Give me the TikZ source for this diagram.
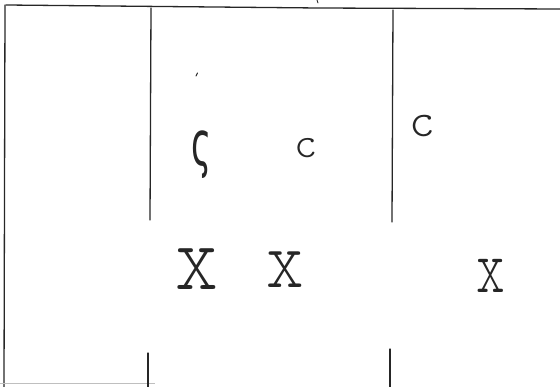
\documentclass[tikz,border=0pt]{standalone}
\usepackage{fontspec}
\usepackage{graphicx}
\newfontfamily\handfont{lmmonolt10-regular.otf}
\newfontfamily\greekfont{DejaVu Sans}
\begin{document}
\begin{tikzpicture}[x=1pt,y=-1pt,
  pen/.style={line width=1.3pt,draw=black!85,line cap=round},
  faint/.style={line width=1pt,draw=black!25},
  glyph/.style={inner sep=0pt,anchor=base,text=black!85}]
\useasboundingbox (0,0) rectangle (560,387);
% frame
\draw[pen] (6,5) -- (318,8) -- (560,9);
\draw[pen] (5,5) -- (4,387);
\draw[faint] (0,384) -- (155,384);
\draw[pen,line width=0.8pt] (317,0) -- (318,3);
% column lines
\draw[pen] (151,8) -- (150,220);
\draw[pen] (148,353) -- (148,387);
\draw[pen] (393,10) -- (392,222);
\draw[pen] (390,349) -- (390,387);
% stray dot
\draw[pen,line width=1pt] (196,76) -- (197.5,73);
% labels
\node[glyph] (s) at (202,166) {\scalebox{0.55}[1]{\greekfont\fontsize{62}{62}\selectfont ς}};
\node[glyph] (c1) at (306,158) {\handfont\fontsize{44}{44}\selectfont c};
\node[glyph] (c2) at (422,137) {\handfont\fontsize{49}{49}\selectfont c};
\node[glyph] (x1) at (197,290) {\scalebox{0.85}[1]{\handfont\fontsize{96}{96}\selectfont x}};
\node[glyph] (x2) at (285,288) {\scalebox{0.85}[1]{\handfont\fontsize{84}{84}\selectfont x}};
\node[glyph] (x3) at (491,293) {\scalebox{0.7}[1]{\handfont\fontsize{78}{78}\selectfont x}};
\end{tikzpicture}
\end{document}
